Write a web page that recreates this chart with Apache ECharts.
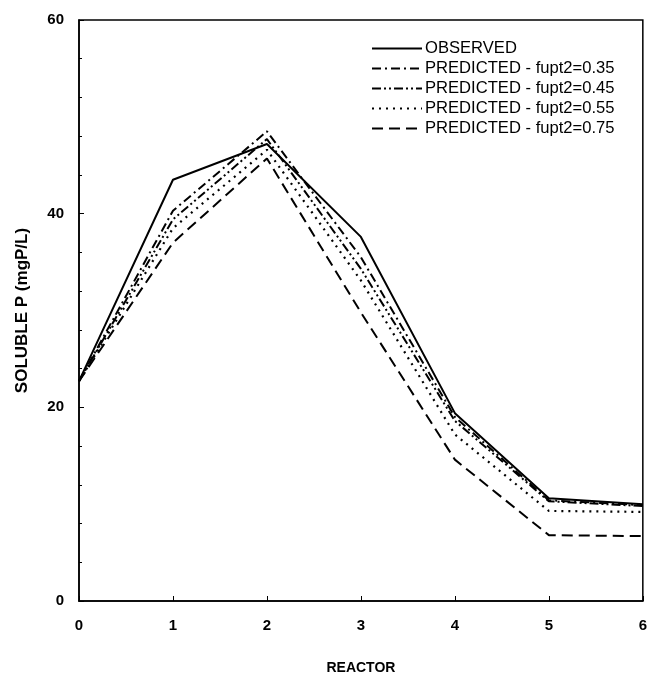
<!DOCTYPE html>
<html>
<head>
<meta charset="utf-8">
<title>Soluble P by reactor</title>
<script src="https://cdn.jsdelivr.net/npm/echarts@6/dist/echarts.min.js"></script>
<style>
  html, body { margin: 0; padding: 0; background: #fff; }
  #chart { width: 650px; height: 682px; }
</style>
</head>
<body>
<div id="chart"></div>
<script>
// Reactor number along the train
const reactors = [0, 1, 2, 3, 4, 5, 6];

// Soluble P, mgP/L
const observed = [22.7, 43.5, 47.2, 37.6, 19.4, 10.6, 10.0];
const pred035  = [22.7, 40.3, 48.5, 35.5, 19.0, 10.4, 9.9];
const pred045  = [22.7, 39.4, 47.7, 34.3, 18.6, 10.3, 9.8];
const pred055  = [22.7, 38.5, 46.6, 33.1, 17.2, 9.3, 9.2];
const pred075  = [22.7, 37.0, 45.7, 29.8, 14.6, 6.8, 6.7];

const seriesNames = [
  'OBSERVED',
  'PREDICTED - fupt2=0.35',
  'PREDICTED - fupt2=0.45',
  'PREDICTED - fupt2=0.55',
  'PREDICTED - fupt2=0.75'
];

const pairs = (ys) => reactors.map((x, i) => [x, ys[i]]);

const font = 'Liberation Sans, Arial, sans-serif';

const lineSeries = (name, ys, dash, width) => ({
  name: name,
  type: 'line',
  data: pairs(ys),
  symbol: 'none',
  showSymbol: false,
  silent: true,
  lineStyle: { color: '#000', width: width, type: dash },
  itemStyle: { color: '#000' }
});

const chart = echarts.init(document.getElementById('chart'));
chart.setOption({
  animation: false,
  backgroundColor: '#fff',
  grid: {
    left: 79, right: 6, top: 20, bottom: 81,
    show: true, borderColor: '#000', borderWidth: 1.5
  },
  legend: {
    show: true,
    top: 35, left: 366,
    orient: 'vertical',
    itemWidth: 50, itemHeight: 12, itemGap: 3,
    selectedMode: false,
    // line keys only, no marker dot
    itemStyle: { color: 'transparent', borderWidth: 0, opacity: 0 },
    textStyle: { fontFamily: font, fontSize: 16.6, lineHeight: 16, color: '#000', padding: [0, 0, 0, -2] },
    data: seriesNames
  },
  xAxis: {
    type: 'value', min: 0, max: 6, interval: 1,
    name: 'REACTOR', nameLocation: 'middle', nameGap: 60,
    nameTextStyle: { fontFamily: font, fontSize: 14, fontWeight: 'bold', color: '#000' },
    axisLine: { lineStyle: { color: '#000', width: 1.5 } },
    axisTick: { inside: true, length: 5, lineStyle: { color: '#000' } },
    axisLabel: { fontFamily: font, fontSize: 15, fontWeight: 'bold', color: '#000', margin: 17 },
    splitLine: { show: false }
  },
  yAxis: {
    type: 'value', min: 0, max: 60, interval: 20,
    name: 'SOLUBLE P (mgP/L)', nameLocation: 'middle', nameGap: 48,
    nameTextStyle: { fontFamily: font, fontSize: 17, fontWeight: 'bold', color: '#000' },
    axisLine: { lineStyle: { color: '#000', width: 1.5 } },
    axisTick: { inside: true, length: 5, lineStyle: { color: '#000' } },
    minorTick: { show: true, splitNumber: 5, length: 3, lineStyle: { color: '#000' } },
    axisLabel: { fontFamily: font, fontSize: 15, fontWeight: 'bold', color: '#000', margin: 15 },
    splitLine: { show: false }
  },
  series: [
    lineSeries(seriesNames[0], observed, 'solid', 2),
    lineSeries(seriesNames[1], pred035, [9, 4, 2, 4], 2),
    lineSeries(seriesNames[2], pred045, [9, 3, 2, 3, 2, 3], 2),
    lineSeries(seriesNames[3], pred055, [2, 5], 2.2),
    lineSeries(seriesNames[4], pred075, [11, 6], 2)
  ]
});
</script>
</body>
</html>
